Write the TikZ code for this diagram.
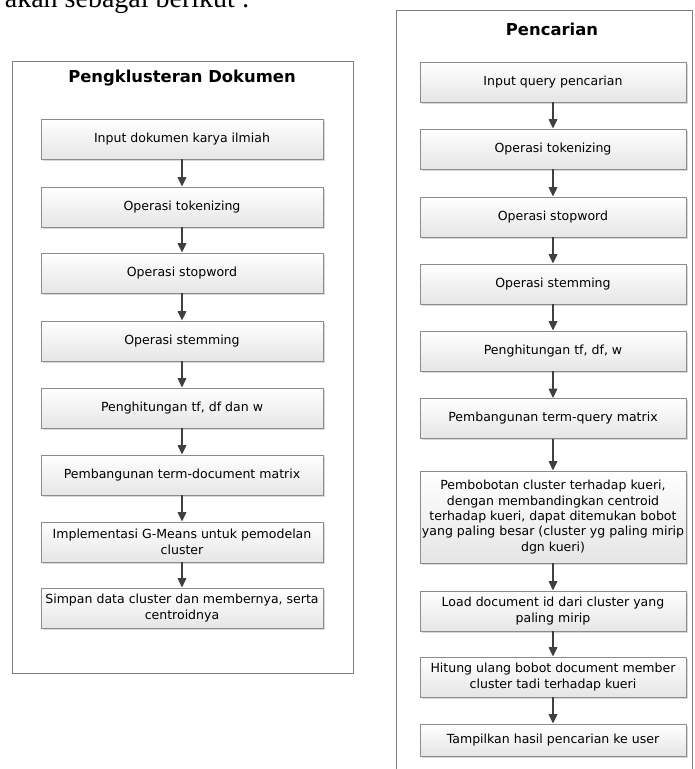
\documentclass[tikz,border=0pt]{standalone}
\usepackage{fontspec}
\setmainfont{DejaVu Sans}
\newfontfamily\bodyfont{Liberation Serif}
\usepackage{xcolor}
\usepackage{tikz}
\usetikzlibrary{arrows.meta}
\usetikzlibrary{shadows}

\definecolor{boxline}{HTML}{8C8C8C}
\definecolor{arrowgray}{HTML}{404040}
\definecolor{frameline}{HTML}{7F7F7F}

\tikzset{
    procbox/.style={draw=boxline, line width=0.7pt, top color=white, bottom color=gray!20,
        minimum height=30pt, inner xsep=1pt, align=center,
        font=\fontsize{9.4}{11.6}\selectfont,
        drop shadow={shadow xshift=1.2pt, shadow yshift=-1.2pt, fill=gray!60, opacity=0.5}},
    leftbox/.style={procbox, minimum width=211.5pt},
    rightbox/.style={procbox, minimum width=199.5pt},
    flowarrow/.style={draw=arrowgray, line width=0.9pt, -{Triangle[width=6.5pt,length=7pt]}},
    paneltitle/.style={font=\bfseries\fontsize{12.3}{14}\selectfont}
}

\begin{document}
\begin{tikzpicture}[x=0.75pt, y=-0.75pt]
                \useasboundingbox (0,0) rectangle (695,769);
                % kalimat pengantar (terpotong)
                \node[font=\bodyfont\fontsize{21}{24}\selectfont, anchor=base east, inner sep=0pt] (intro) at (250,7.5) {akan sebagai berikut :};

                % Pengklusteran Dokumen
                \draw[frameline, line width=0.75pt] (12,61) rectangle (353,673);
                \node[paneltitle] (titleL) at (182,78) {Pengklusteran Dokumen};
                \node[leftbox] (l1) at (182,139) {Input dokumen karya ilmiah};
                \node[leftbox] (l2) at (182,207) {Operasi tokenizing};
                \node[leftbox] (l3) at (182,273) {Operasi stopword};
                \node[leftbox] (l4) at (182,341) {Operasi stemming};
                \node[leftbox] (l5) at (182,408) {Penghitungan tf, df dan w};
                \node[leftbox] (l6) at (182,475) {Pembangunan term-document matrix};
                \node[leftbox] (l7) at (182,542) {Implementasi G-Means untuk pemodelan\\cluster};
                \node[leftbox] (l8) at (182,608) {Simpan data cluster dan membernya, serta\\centroidnya};
                \foreach \a/\b in {l1/l2, l2/l3, l3/l4, l4/l5, l5/l6, l6/l7, l7/l8} {
                    \draw[flowarrow] (\a.south) -- (\b.north);
                }

                % Pencarian
                \draw[frameline, line width=0.75pt] (396,790) -- (396,10) -- (692,10) -- (692,790);
                \node[paneltitle] (titleR) at (552,29) {Pencarian};
                \node[rightbox] (r1) at (553,82) {Input query pencarian};
                \node[rightbox] (r2) at (553,149) {Operasi tokenizing};
                \node[rightbox] (r3) at (553,217) {Operasi stopword};
                \node[rightbox] (r4) at (553,284) {Operasi stemming};
                \node[rightbox] (r5) at (553,351) {Penghitungan tf, df, w};
                \node[rightbox] (r6) at (553,418.5) {Pembangunan term-query matrix};
                \node[rightbox, minimum height=69pt] (r7) at (553,517) {Pembobotan cluster terhadap kueri,\\dengan membandingkan centroid\\terhadap kueri, dapat ditemukan bobot\\yang paling besar (cluster yg paling mirip\\dgn kueri)};
                \node[rightbox] (r8) at (553,611) {Load document id dari cluster yang\\paling mirip};
                \node[rightbox] (r9) at (553,677) {Hitung ulang bobot document member\\cluster tadi terhadap kueri};
                \node[rightbox, minimum height=24pt] (r10) at (553,740) {Tampilkan hasil pencarian ke user};
                \foreach \a/\b in {r1/r2, r2/r3, r3/r4, r4/r5, r5/r6, r6/r7, r7/r8, r8/r9, r9/r10} {
                    \draw[flowarrow] (\a.south) -- (\b.north);
                }
\end{tikzpicture}
\end{document}
